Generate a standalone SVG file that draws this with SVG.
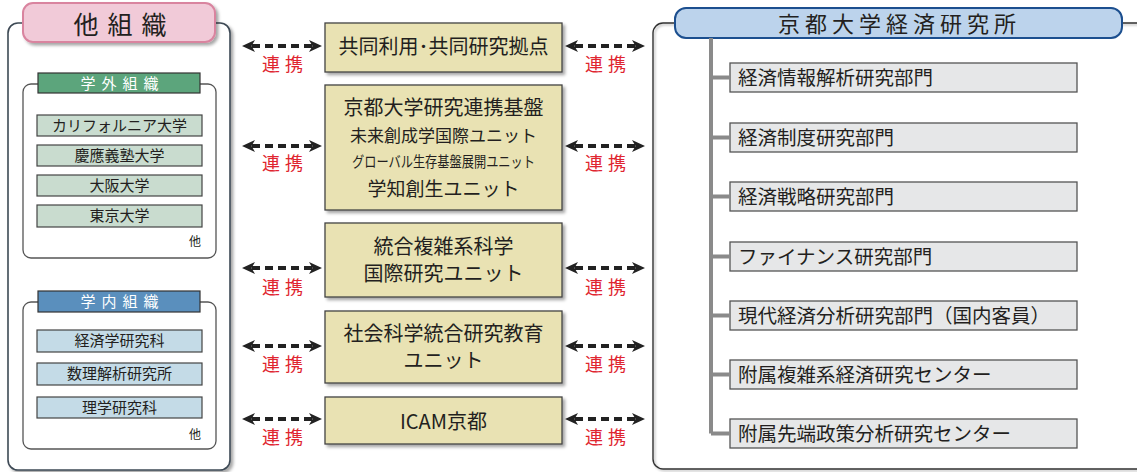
<svg xmlns="http://www.w3.org/2000/svg" width="1137" height="472" viewBox="0 0 1137 472">
<defs>
<filter id="sh" x="-10%" y="-10%" width="130%" height="130%">
<feDropShadow dx="2.5" dy="2.5" stdDeviation="1.5" flood-color="#000" flood-opacity="0.35"/>
</filter>
<filter id="sh2" x="-10%" y="-10%" width="130%" height="130%">
<feDropShadow dx="1.5" dy="1.5" stdDeviation="0.8" flood-color="#000" flood-opacity="0.3"/>
</filter>
<marker id="ah" viewBox="0 0 13 12" refX="3" refY="6" markerWidth="13" markerHeight="12" markerUnits="userSpaceOnUse" orient="auto-start-reverse">
<path d="M0,0 L13,6 L0,12 L3.5,6 Z" fill="#222"/>
</marker>
</defs>
<style>
text{font-family:"Noto Sans CJK JP","Noto Sans",sans-serif;fill:#231f20}
.mid{fill:#e9e2b3;stroke:#444;stroke-width:1.3}
.ext{fill:#c9dccf;stroke:#444;stroke-width:1.2}
.int{fill:#c4dbe7;stroke:#444;stroke-width:1.2}
.dept{fill:#e6e7e8;stroke:#555;stroke-width:1.3}
.sub{fill:#fff;stroke:#555;stroke-width:1.3}
.arr{fill:none;stroke:#222;stroke-width:4;stroke-dasharray:8 5;marker-start:url(#ah);marker-end:url(#ah)}
.rl{fill:#e0252f;font-size:18px}
.tree{fill:none;stroke:#8a8a8a;stroke-width:4}
.it{font-size:15px;text-anchor:middle}
.mt{font-size:20px;text-anchor:middle}
.dt{font-size:19.5px}
</style>

<g id="other-org">
<rect x="8" y="23" width="222" height="447" rx="10" fill="#fff" stroke="#3e4a55" stroke-width="1.6" filter="url(#sh)"/>
<rect x="23" y="3" width="192" height="39" rx="10" fill="#f1cad8" stroke="#d9849f" stroke-width="2" filter="url(#sh)"/>
<text x="86 120 154" y="34" font-size="25" text-anchor="middle">他組織</text>
</g>

<g id="external-org">
<rect class="sub" x="23" y="84" width="193" height="174" rx="8"/>
<rect x="38" y="73" width="162" height="20" fill="#5ca57c" stroke="#333" stroke-width="1.2"/>
<text x="88 109 130 151" y="89" font-size="15" text-anchor="middle" style="fill:#fff">学外組織</text>
<rect class="ext" x="37" y="115" width="165" height="21"/>
<text class="it" x="119.5" y="131">カリフォルニア大学</text>
<rect class="ext" x="37" y="145" width="165" height="21"/>
<text class="it" x="119.5" y="161">慶應義塾大学</text>
<rect class="ext" x="37" y="175" width="165" height="21"/>
<text class="it" x="119.5" y="191">大阪大学</text>
<rect class="ext" x="37" y="205" width="165" height="22"/>
<text class="it" x="119.5" y="221">東京大学</text>
<text x="195" y="246" font-size="12" text-anchor="middle">他</text>
</g>

<g id="internal-org">
<rect class="sub" x="23" y="302" width="193" height="147" rx="8"/>
<rect x="38" y="291" width="162" height="21" fill="#5a8fbd" stroke="#333" stroke-width="1.2"/>
<text x="88 109 130 151" y="307" font-size="15" text-anchor="middle" style="fill:#fff">学内組織</text>
<rect class="int" x="37" y="330" width="165" height="22"/>
<text class="it" x="119.5" y="346">経済学研究科</text>
<rect class="int" x="37" y="363" width="165" height="22"/>
<text class="it" x="119.5" y="379">数理解析研究所</text>
<rect class="int" x="37" y="397" width="165" height="21"/>
<text class="it" x="119.5" y="413">理学研究科</text>
<text x="195" y="439" font-size="12" text-anchor="middle">他</text>
</g>

<g id="mid-1">
<rect class="mid" x="325" y="23" width="237" height="49" filter="url(#sh)"/>
<text class="mt" x="443.5" y="54">共同利用･共同研究拠点</text>
</g>
<g id="mid-2">
<rect class="mid" x="325" y="85" width="237" height="125" filter="url(#sh)"/>
<text class="mt" x="443.5" y="115" font-size="21">京都大学研究連携基盤</text>
<text x="443.5" y="142" font-size="17" text-anchor="middle">未来創成学国際ユニット</text>
<text x="443.5" y="167" font-size="15" text-anchor="middle" textLength="183" lengthAdjust="spacingAndGlyphs">グローバル生存基盤展開ユニット</text>
<text x="443.5" y="196" font-size="19" text-anchor="middle">学知創生ユニット</text>
</g>
<g id="mid-3">
<rect class="mid" x="325" y="223" width="237" height="74" filter="url(#sh)"/>
<text class="mt" x="443.5" y="254" font-size="19.5">統合複雑系科学</text>
<text class="mt" x="443.5" y="281" font-size="19.5">国際研究ユニット</text>
</g>
<g id="mid-4">
<rect class="mid" x="325" y="311" width="237" height="72" filter="url(#sh)"/>
<text class="mt" x="443.5" y="341">社会科学統合研究教育</text>
<text class="mt" x="443.5" y="368">ユニット</text>
</g>
<g id="mid-5">
<rect class="mid" x="325" y="397" width="237" height="47" filter="url(#sh)"/>
<text class="mt" x="443.5" y="429">ICAM京都</text>
</g>

<g id="kier">
<rect x="653" y="23" width="500" height="446" rx="10" fill="none" stroke="#333" stroke-width="1.4" filter="url(#sh2)"/>
<rect x="675" y="8" width="447" height="30" rx="11" fill="#bcd3ec" stroke="#1c4f8f" stroke-width="2"/>
<text x="789 816 843 870 897 924 951 978 1005" y="32" font-size="22" text-anchor="middle">京都大学経済研究所</text>
</g>
<g id="dept-1"><rect class="dept" x="730" y="63" width="347" height="29"/><text class="dt" x="738" y="85">経済情報解析研究部門</text></g>
<g id="dept-2"><rect class="dept" x="730" y="123" width="347" height="29"/><text class="dt" x="738" y="145">経済制度研究部門</text></g>
<g id="dept-3"><rect class="dept" x="730" y="182" width="347" height="29"/><text class="dt" x="738" y="204">経済戦略研究部門</text></g>
<g id="dept-4"><rect class="dept" x="730" y="242" width="347" height="29"/><text class="dt" x="738" y="264">ファイナンス研究部門</text></g>
<g id="dept-5"><rect class="dept" x="730" y="301" width="347" height="29"/><text class="dt" x="738" y="323">現代経済分析研究部門（国内客員）</text></g>
<g id="dept-6"><rect class="dept" x="730" y="360" width="347" height="29"/><text class="dt" x="738" y="382">附属複雑系経済研究センター</text></g>
<g id="dept-7"><rect class="dept" x="730" y="419" width="347" height="29"/><text class="dt" x="738" y="441">附属先端政策分析研究センター</text></g>

<g id="connectors">
<path class="tree" d="M711,38 V433.5 M711,77.5 H730 M711,137.5 H730 M711,196.5 H730 M711,256.5 H730 M711,315.5 H730 M711,374.5 H730 M711,433.5 H730"/>
<path class="arr" d="M252,46 H312"/>
<path class="arr" d="M252,146 H312"/>
<path class="arr" d="M252,268 H312"/>
<path class="arr" d="M252,346 H312"/>
<path class="arr" d="M252,419 H312"/>
<path class="arr" d="M575,46 H635"/>
<path class="arr" d="M575,146 H635"/>
<path class="arr" d="M575,268 H635"/>
<path class="arr" d="M575,346 H635"/>
<path class="arr" d="M575,419 H635"/>
<text class="rl" x="271 294" y="71" text-anchor="middle">連携</text>
<text class="rl" x="271 294" y="170" text-anchor="middle">連携</text>
<text class="rl" x="271 294" y="294" text-anchor="middle">連携</text>
<text class="rl" x="271 294" y="371" text-anchor="middle">連携</text>
<text class="rl" x="271 294" y="444" text-anchor="middle">連携</text>
<text class="rl" x="594 617" y="71" text-anchor="middle">連携</text>
<text class="rl" x="594 617" y="170" text-anchor="middle">連携</text>
<text class="rl" x="594 617" y="294" text-anchor="middle">連携</text>
<text class="rl" x="594 617" y="371" text-anchor="middle">連携</text>
<text class="rl" x="594 617" y="444" text-anchor="middle">連携</text>
</g>
</svg>
